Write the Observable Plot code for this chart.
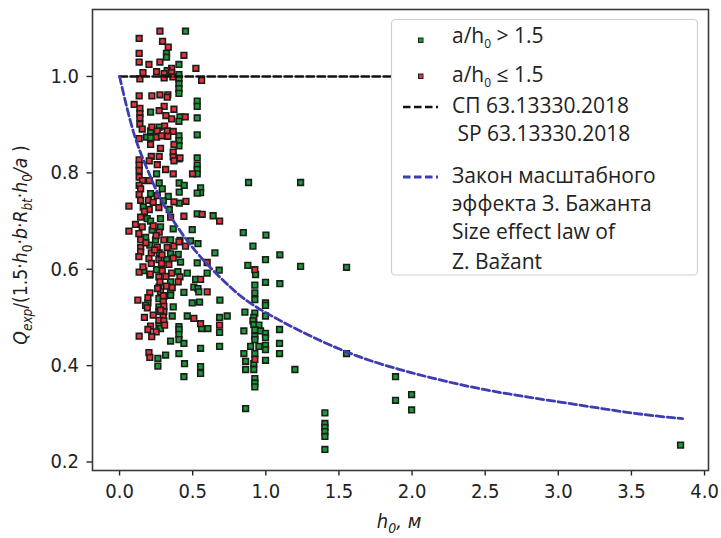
<!DOCTYPE html>
<html>
<head>
<meta charset="utf-8">
<script src="https://cdn.jsdelivr.net/npm/d3@7"></script>
<script src="https://cdn.jsdelivr.net/npm/@observablehq/plot@0.6"></script>
<style>
  html, body { margin: 0; padding: 0; background: #fff; }
  #chart { width: 721px; height: 538px; }
  #chart svg { font-stretch: condensed; }
</style>
</head>
<body>
<div id="chart"></div>
<script>
// ---- data: a/h0 > 1.5 (green) ----
const greenX = [0.451,0.321,0.321,0.406,0.406,0.406,0.406,0.406,0.406,0.531,0.531,0.212,0.413,0.531,0.406,0.271,0.212,0.406,0.531,0.185,0.212,0.406,0.406,0.406,0.531,0.531,0.531,0.531,0.253,0.271,0.408,0.442,0.882,1.238,0.292,0.554,0.554,0.408,0.531,0.212,0.333,0.299,0.408,0.162,0.340,0.531,0.640,0.189,0.280,0.212,0.280,0.367,0.223,0.497,0.846,1.001,0.178,0.246,0.413,0.485,0.536,0.912,
  0.207,0.349,0.271,0.349,0.401,0.652,1.096,0.321,0.998,0.417,0.531,0.877,1.238,0.166,0.253,0.399,0.463,0.599,0.681,0.930,0.520,0.349,0.998,1.096,0.269,0.508,0.536,0.925,0.349,0.440,0.542,0.925,0.269,0.349,0.194,0.178,0.497,0.547,0.686,0.925,0.998,0.998,0.269,0.367,0.269,0.857,0.925,0.360,0.463,0.684,0.736,0.918,0.998,0.912,0.269,0.406,0.918,0.953,0.280,0.406,0.561,0.604,1.094,0.850,0.925,0.964,0.998,0.406,0.684,0.925,0.998,1.094,0.349,0.406,0.440,0.925,0.684,0.554,0.896,0.953,0.998,0.998,0.315,0.406,0.850,0.925,1.094,0.262,0.998,0.262,0.444,0.862,0.918,1.199,0.554,0.554,0.862,0.918,0.440,0.925,0.925,0.925,0.862,1.404,1.404,1.404,1.404,1.404,1.404,
  1.552,1.552,1.887,1.887,1.997,1.997,3.836];
const greenY = [1.094,1.048,1.040,1.025,1.004,0.995,0.985,0.975,0.965,0.949,0.938,0.926,0.916,0.914,0.907,0.895,0.887,0.877,0.879,0.874,0.873,0.867,0.856,0.829,0.831,0.816,0.807,0.798,0.798,0.779,0.779,0.774,0.780,0.780,0.767,0.769,0.759,0.760,0.758,0.757,0.751,0.742,0.737,0.729,0.724,0.715,0.711,0.705,0.705,0.700,0.688,0.684,0.681,0.682,0.676,0.671,0.666,0.661,0.660,0.659,0.653,0.648,
  0.650,0.661,0.634,0.632,0.631,0.634,0.630,0.620,0.620,0.615,0.613,0.608,0.606,0.597,0.599,0.595,0.592,0.592,0.598,0.589,0.579,0.574,0.573,0.570,0.563,0.563,0.560,0.567,0.553,0.552,0.553,0.551,0.539,0.546,0.530,0.525,0.530,0.532,0.536,0.537,0.530,0.525,0.522,0.522,0.512,0.511,0.509,0.503,0.503,0.500,0.503,0.500,0.503,0.493,0.484,0.481,0.485,0.484,0.477,0.475,0.477,0.477,0.475,0.472,0.474,0.472,0.467,0.465,0.469,0.461,0.458,0.446,0.451,0.454,0.446,0.454,0.440,0.436,0.440,0.440,0.442,0.433,0.422,0.425,0.425,0.425,0.425,0.415,0.411,0.399,0.404,0.409,0.404,0.392,0.398,0.384,0.392,0.392,0.377,0.373,0.364,0.356,0.311,0.302,0.280,0.272,0.263,0.253,0.226,
  0.604,0.425,0.377,0.328,0.340,0.308,0.235];

// ---- data: a/h0 <= 1.5 (red) ----
const redX = [0.276,0.134,0.294,0.333,0.134,0.440,0.134,0.276,0.201,0.522,0.356,0.326,0.253,0.160,0.305,0.356,0.139,0.305,0.365,0.561,0.134,0.221,0.276,0.330,0.326,0.100,0.139,0.305,0.372,0.271,0.139,0.317,0.139,0.449,0.356,0.139,0.155,0.221,0.308,0.258,0.326,0.367,0.134,0.253,0.287,0.330,0.212,0.372,0.280,0.367,0.367,0.217,0.271,0.413,0.134,0.203,0.372,0.134,0.258,0.134,0.315,0.499,0.367,0.134,0.157,0.203,0.134,0.144,0.134,0.258,0.144,0.198,0.230,0.372,0.454,0.064,0.269,0.203,0.565,0.684,0.440,0.144,0.349,0.109,0.155,0.064,0.132,0.144,0.303,0.144,0.258,
  0.326,0.372,0.451,0.271,0.406,0.144,0.217,0.132,0.201,0.269,0.367,0.217,0.287,0.337,0.599,0.134,0.292,0.356,0.925,0.207,0.269,0.317,0.413,0.554,0.276,0.401,0.321,0.360,0.207,0.280,0.599,0.194,0.303,0.125,0.299,0.303,0.303,0.299,0.508,0.269,0.303,0.212,0.308,0.554,0.684,0.194,0.134,0.201,0.207,0.925,
  0.170,0.230,0.250,0.180,0.240,0.290,0.160,0.210,0.260,0.300,0.190,0.230,0.280,0.250,0.170,0.220];
const redY = [1.094,1.079,1.073,1.061,1.048,1.044,1.030,1.030,1.025,1.017,1.017,1.012,1.010,1.008,1.006,1.008,0.995,0.997,0.999,0.992,0.960,0.960,0.962,0.962,0.957,0.942,0.934,0.938,0.932,0.929,0.923,0.919,0.914,0.916,0.912,0.901,0.891,0.895,0.897,0.887,0.887,0.886,0.871,0.874,0.877,0.876,0.859,0.859,0.851,0.843,0.833,0.834,0.834,0.831,0.827,0.825,0.825,0.816,0.817,0.805,0.807,0.798,0.798,0.791,0.784,0.784,0.774,0.767,0.755,0.753,0.743,0.743,0.739,0.740,0.741,0.731,0.728,0.724,0.714,0.700,0.710,0.708,0.708,0.693,0.688,0.679,0.674,0.661,0.661,0.645,0.646,
  0.645,0.648,0.648,0.677,0.657,0.636,0.634,0.626,0.622,0.620,0.623,0.612,0.612,0.610,0.614,0.594,0.597,0.592,0.599,0.588,0.584,0.585,0.584,0.579,0.574,0.574,0.565,0.562,0.551,0.553,0.553,0.541,0.544,0.536,0.534,0.523,0.512,0.501,0.498,0.494,0.493,0.482,0.484,0.487,0.484,0.475,0.461,0.427,0.417,0.413,
  0.720,0.690,0.670,0.655,0.640,0.630,0.605,0.590,0.560,0.545,0.520,0.505,0.515,0.470,0.500,0.460];

// ---- СП 63.13330.2018 level ----
const spX = [0, 3.85];
const spY = [1.0, 1.0];

// ---- Bažant size effect law ----
const bzX = [0, 0.1, 0.2, 0.3, 0.5, 0.75, 1.0, 1.5, 2.0, 2.5, 3.0, 3.5, 3.85];
const bzY = [1.0, 0.88, 0.80, 0.735, 0.645, 0.565, 0.51, 0.435, 0.385, 0.35, 0.325, 0.302, 0.29];

const xTicks = [0.0, 0.5, 1.0, 1.5, 2.0, 2.5, 3.0, 3.5, 4.0];
const yTicks = [0.2, 0.4, 0.6, 0.8, 1.0];

const legendLabels = ["a/h0 > 1.5", "a/h0 ≤ 1.5", "СП 63.13330.2018", " SP 63.13330.2018",
  "Закон масштабного", "эффекта З. Бажанта", "Size effect law of", "Z. Bažant"];

const green = greenX.map((x, i) => ({x, y: greenY[i]}));
const red = redX.map((x, i) => ({x, y: redY[i]}));
const sp = spX.map((x, i) => ({x, y: spY[i]}));
const bz = bzX.map((x, i) => ({x, y: bzY[i]}));

const tickFont = "'DejaVu Sans Condensed', 'DejaVu Sans', sans-serif";
const fmt = d3.format(".1f");
const GREEN = "#189a35", RED = "#e2343a", EDGE = "#1c1c1c", BLUE = "#3d3db0";

const chart = Plot.plot({
  width: 721,
  height: 538,
  marginLeft: 92,
  marginRight: 13,
  marginTop: 9,
  marginBottom: 68,
  style: {fontFamily: tickFont, fontSize: "20px", color: "#222", background: "#fff"},
  x: {domain: [-0.185, 4.027]},
  y: {domain: [0.1824, 1.139]},
  marks: [
    Plot.axisX({ticks: xTicks, tickFormat: fmt, tickSize: 5.5, tickPadding: 8, label: null, fontSize: 20, strokeWidth: 1.4}),
    Plot.axisY({ticks: yTicks, tickFormat: fmt, tickSize: 5.5, tickPadding: 8, label: null, fontSize: 20, strokeWidth: 1.4}),
    Plot.dot(green, {x: "x", y: "y", symbol: "square", r: 3.2, fill: GREEN, stroke: EDGE, strokeWidth: 1.6}),
    Plot.dot(red, {x: "x", y: "y", symbol: "square", r: 3.2, fill: RED, stroke: EDGE, strokeWidth: 1.6}),
    Plot.line(sp, {x: "x", y: "y", stroke: "#111", strokeWidth: 2.6, strokeDasharray: "7.5,3.5"}),
    Plot.line(bz, {x: "x", y: "y", curve: "natural", stroke: BLUE, strokeWidth: 2.8, strokeDasharray: "7.5,3.5"}),
    Plot.frame({stroke: "#3a3a3a", strokeWidth: 1.6})
  ]
});

document.getElementById("chart").appendChild(chart);

const svg = d3.select(chart);
const legendFont = "'Open Sans', 'Noto Sans', sans-serif";

// Legend
const lg = svg.append("g").attr("font-family", legendFont).attr("font-size", 21)
  .attr("fill", "#222").attr("text-anchor", "start").style("font-stretch", "normal");
lg.append("rect").attr("x", 391.5).attr("y", 19.5).attr("width", 306).attr("height", 255.5)
  .attr("rx", 4).attr("fill", "#fff").attr("stroke", "#cfcfcf").attr("stroke-width", 1.2);

// markers
lg.append("rect").attr("x", 418.5).attr("y", 38).attr("width", 4.5).attr("height", 4.5)
  .attr("fill", GREEN).attr("stroke", EDGE).attr("stroke-width", 1);
lg.append("rect").attr("x", 418.5).attr("y", 74).attr("width", 4.5).attr("height", 4.5)
  .attr("fill", RED).attr("stroke", EDGE).attr("stroke-width", 1);
lg.append("line").attr("x1", 403).attr("x2", 438).attr("y1", 107).attr("y2", 107)
  .attr("stroke", "#111").attr("stroke-width", 2.6).attr("stroke-dasharray", "7.5,3.5");
lg.append("line").attr("x1", 403).attr("x2", 438).attr("y1", 177).attr("y2", 177)
  .attr("stroke", BLUE).attr("stroke-width", 2.8).attr("stroke-dasharray", "7.5,3.5");

function subLabel(g, y, label) {
  const [pre, post] = label.split("h0");
  const t = g.append("text").attr("x", 452).attr("y", y).attr("dy", "0.35em");
  t.append("tspan").text(pre + "h");
  t.append("tspan").attr("font-size", 12).attr("dy", 5).text("0");
  t.append("tspan").attr("dy", -5).text(post);
}
subLabel(lg, 36, legendLabels[0]);
subLabel(lg, 75, legendLabels[1]);
const lineYs = [106, 134, 176, 204, 232, 262];
for (let i = 2; i < legendLabels.length; i++) {
  lg.append("text").attr("x", 452).attr("y", lineYs[i - 2]).attr("dy", "0.35em")
    .style("white-space", "pre").text(legendLabels[i]);
}

// Y axis label
const yl = svg.append("text").attr("transform", "translate(27,245) rotate(-90)")
  .attr("text-anchor", "middle").attr("font-family", tickFont).attr("font-size", 19.2).attr("fill", "#222");
const parts = [
  ["Q", true, 0], ["exp", true, 1], ["/(1.5·", false, 0], ["h", true, 0], ["0", false, 1],
  ["·", false, 0], ["b", true, 0], ["·", false, 0], ["R", true, 0], ["bt", true, 1], ["·", false, 0],
  ["h", true, 0], ["0", false, 1], ["/a", true, 0], [" )", false, 0]
];
let prevSub = 0;
parts.forEach(([s, it, sub]) => {
  const ts = yl.append("tspan").text(s).style("white-space", "pre");
  if (it) ts.attr("font-style", "italic");
  if (sub) ts.attr("font-size", 13.5);
  const dy = (sub - prevSub) * 5;
  if (dy) ts.attr("dy", dy);
  prevSub = sub;
});

// X axis label
const xl = svg.append("text").attr("x", 399).attr("y", 528).attr("text-anchor", "middle")
  .attr("font-family", tickFont).attr("font-size", 20).attr("font-style", "italic").attr("fill", "#222");
xl.append("tspan").text("h");
xl.append("tspan").attr("font-size", 14).attr("dy", 5).text("0");
xl.append("tspan").attr("dy", -5).text(", м");
</script>
</body>
</html>
